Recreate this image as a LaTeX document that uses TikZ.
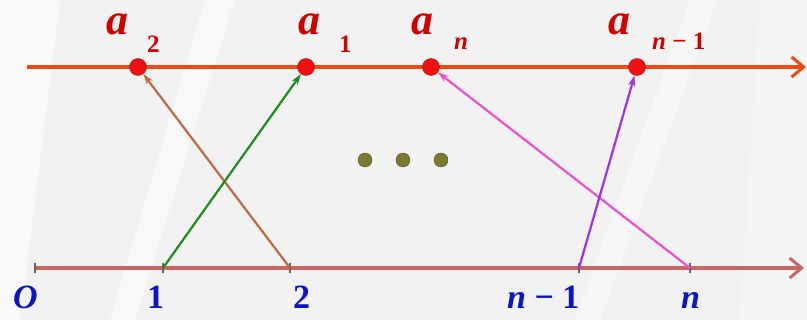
\documentclass[tikz,border=0pt]{standalone}
\usepackage{fontspec}
\setmainfont{Liberation Serif}
\usetikzlibrary{arrows.meta}
\definecolor{bgc}{HTML}{F2F2F2}
\definecolor{topline}{HTML}{F04A14}
\definecolor{ptred}{HTML}{EE1111}
\definecolor{botline}{HTML}{C86666}
\definecolor{lblred}{HTML}{D40000}
\definecolor{lblblue}{HTML}{0A14C8}
\definecolor{cbrown}{HTML}{C06A40}
\definecolor{cgreen}{HTML}{1E8C1E}
\definecolor{cpink}{HTML}{F050C8}
\definecolor{cpurple}{HTML}{A030F0}
\definecolor{olive}{HTML}{7A7A32}
\begin{document}
\begin{tikzpicture}[x=1pt,y=-1pt,
  ptnode/.style={circle,fill=ptred,draw=ptred!80!black,line width=0.4pt,minimum size=17pt,inner sep=0pt},
  dotnode/.style={circle,fill=olive,draw=olive!70!black,line width=0.4pt,minimum size=14pt,inner sep=0pt},
  alab/.style={anchor=base west,inner sep=0pt,text=lblred,font=\fontsize{44}{44}\selectfont\bfseries\itshape},
  slab/.style={anchor=base west,inner sep=0pt,text=lblred,font=\fontsize{25}{25}\selectfont\bfseries},
  blab/.style={anchor=base west,inner sep=0pt,text=lblblue,font=\fontsize{34}{34}\selectfont\bfseries},
  conn/.style={line width=2.2pt,-{Stealth[length=11pt,width=7pt]}},
  axis/.style={line width=4.4pt},
  tick/.style={line width=1.2pt,draw=black!60}
]
\useasboundingbox (0,0) rectangle (807,320);
\fill[bgc] (0,0) rectangle (807,320);
% faint stripes
\fill[white,opacity=0.6] (0,0) -- (60,0) -- (20,320) -- (0,320) -- cycle;
\fill[white,opacity=0.5] (205,0) -- (235,0) -- (135,320) -- (110,320) -- cycle;
\fill[white,opacity=0.4] (690,0) -- (717,0) -- (600,320) -- (575,320) -- cycle;
\fill[white,opacity=0.3] (760,0) -- (807,0) -- (807,320) -- (740,320) -- cycle;

% axes
\coordinate (tl) at (27,67);
\coordinate (tr) at (806,67);
\draw[axis,topline,-{Straight Barb[length=12pt,width=20pt,line width=3pt]}] (tl) -- (tr);
\coordinate (o) at (35,268);
\coordinate (br) at (804,268);
\draw[axis,botline,-{Straight Barb[length=12pt,width=20pt,line width=3pt]}] (o) -- (br);

% ticks
\coordinate (t1) at (163,268);
\coordinate (t2) at (290,268);
\coordinate (tm) at (579,268);
\coordinate (tn) at (690,268);
\foreach \c in {o,t1,t2,tm,tn}{\draw[tick] ([yshift=-5pt]\c) -- ([yshift=5pt]\c);}

% points
\node[ptnode] (a2) at (138,67) {};
\node[ptnode] (a1) at (306,67) {};
\node[ptnode] (an) at (431,67) {};
\node[ptnode] (am) at (637,67) {};

% connectors
\draw[conn,cbrown] (t2) -- (a2);
\draw[conn,cgreen] (t1) -- (a1);
\draw[conn,cpink] (tn) -- (an);
\draw[conn,cpurple] (tm) -- (am);

% dots
\node[dotnode] (d1) at (365,160) {};
\node[dotnode] (d2) at (403,160) {};
\node[dotnode] (d3) at (441,160) {};

% top labels
\node[alab] (la2) at (106,35) {a};
\node[slab] (sa2) at (147,53) {2};
\node[alab] (la1) at (298,35) {a};
\node[slab] (sa1) at (339,53) {1};
\node[alab] (lan) at (411,35) {a};
\node[slab] (san) at (454,50) {\itshape n};
\node[alab] (lam) at (608,35) {a};
\node[slab] (sam) at (652,50) {\itshape n\upshape\ − 1};

% bottom labels
\node[blab] (lo) at (13,309) {\itshape O};
\node[blab] (l1) at (147,309) {1};
\node[blab] (l2) at (293,309) {2};
\node[blab] (lm) at (507,309) {\itshape n\upshape\ − 1};
\node[blab] (ln) at (681,309) {\itshape n};
\end{tikzpicture}
\end{document}
